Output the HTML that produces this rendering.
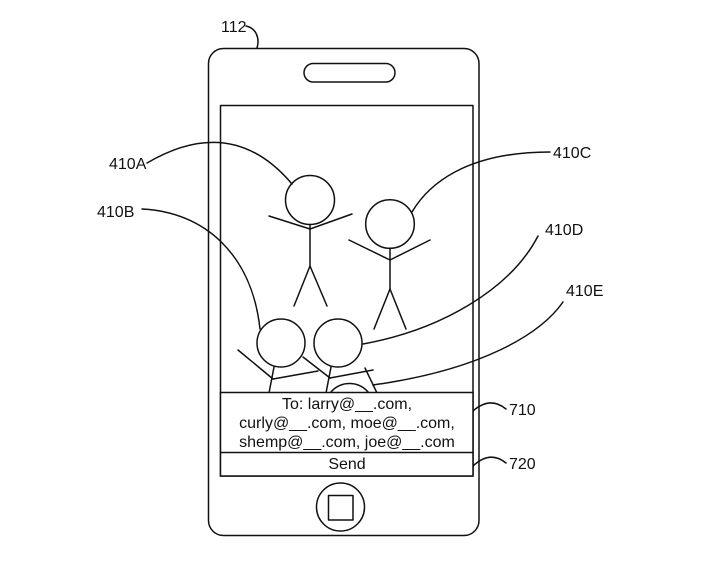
<!DOCTYPE html>
<html>
<head>
<meta charset="utf-8">
<style>
  html,body{margin:0;padding:0;background:#fff;}
  svg{display:block;}
  text{font-family:"Liberation Sans",Arial,sans-serif;font-size:16px;fill:#111;}
</style>
</head>
<body>
<svg width="713" height="570" viewBox="0 0 713 570" xmlns="http://www.w3.org/2000/svg">
  <g fill="none" stroke="#111" stroke-width="1.5" stroke-linecap="round" stroke-linejoin="round">
    <!-- phone body -->
    <rect x="208.5" y="48.5" width="270.5" height="487" rx="15" ry="15"/>
    <!-- speaker -->
    <rect x="304" y="63.5" width="91" height="18.5" rx="9.25" ry="9.25"/>
    <!-- screen -->
    <rect x="220.5" y="105.5" width="252.5" height="370.5"/>
    <!-- home button -->
    <circle cx="340.5" cy="507" r="24"/>
    <rect x="328.5" y="495.5" width="24.5" height="24.5"/>

    <!-- figure A -->
    <circle cx="310" cy="200" r="24.5"/>
    <polyline points="269,216 310,229 352,214"/>
    <line x1="310" y1="224.5" x2="310" y2="266"/>
    <polyline points="294,306 310,266 327,306"/>

    <!-- figure C -->
    <circle cx="390" cy="224" r="24.3"/>
    <polyline points="349,240 390,260 430,240"/>
    <line x1="390" y1="248.3" x2="390" y2="289"/>
    <polyline points="374,329 390,289 406,329"/>

    <!-- figure B (lower left) -->
    <circle cx="281" cy="343" r="24"/>
    <line x1="238" y1="350" x2="273" y2="379"/>
    <line x1="273" y1="379" x2="318" y2="371"/>
    <line x1="274" y1="367" x2="269" y2="393"/>

    <!-- figure D -->
    <circle cx="338" cy="343" r="24"/>
    <line x1="303" y1="357" x2="330" y2="378"/>
    <line x1="330" y1="378" x2="373" y2="370"/>
    <line x1="331" y1="367" x2="326" y2="393"/>

    <!-- figure E (partial) -->
    <circle cx="349.5" cy="408" r="24.5"/>
    <line x1="365" y1="368" x2="377" y2="393"/>

    <!-- leaders -->
    <path d="M147,163 Q232,113 292,184"/>
    <path d="M142,209 C205,212 252,255 260,329"/>
    <path d="M550,152 C465,152 428,185 412,212"/>
    <path d="M538,236 C510,290 440,330 363,344"/>
    <path d="M563,302 C540,335 480,370 373,385"/>
    <path d="M246,26 C256,28 260,38 257,48"/>
    <path d="M506,409 Q490,396 473,411"/>
    <path d="M506,463 Q490,450 473,466"/>
  </g>

  <!-- email box -->
  <rect x="220.5" y="392.5" width="252.5" height="83.5" fill="#fff" stroke="#111" stroke-width="1.5"/>
  <line x1="220.5" y1="452.5" x2="473" y2="452.5" stroke="#111" stroke-width="1.5"/>

  <text x="347" y="409" text-anchor="middle">To: larry@__.com,</text>
  <text x="347" y="428" text-anchor="middle">curly@__.com, moe@__.com,</text>
  <text x="347" y="447" text-anchor="middle">shemp@__.com, joe@__.com</text>
  <text x="347" y="469" text-anchor="middle">Send</text>

  <!-- labels -->
  <text x="221" y="32">112</text>
  <text x="109" y="169">410A</text>
  <text x="97" y="217">410B</text>
  <text x="553" y="158">410C</text>
  <text x="545" y="235">410D</text>
  <text x="566" y="296">410E</text>
  <text x="509" y="415">710</text>
  <text x="509" y="469">720</text>
</svg>
</body>
</html>
